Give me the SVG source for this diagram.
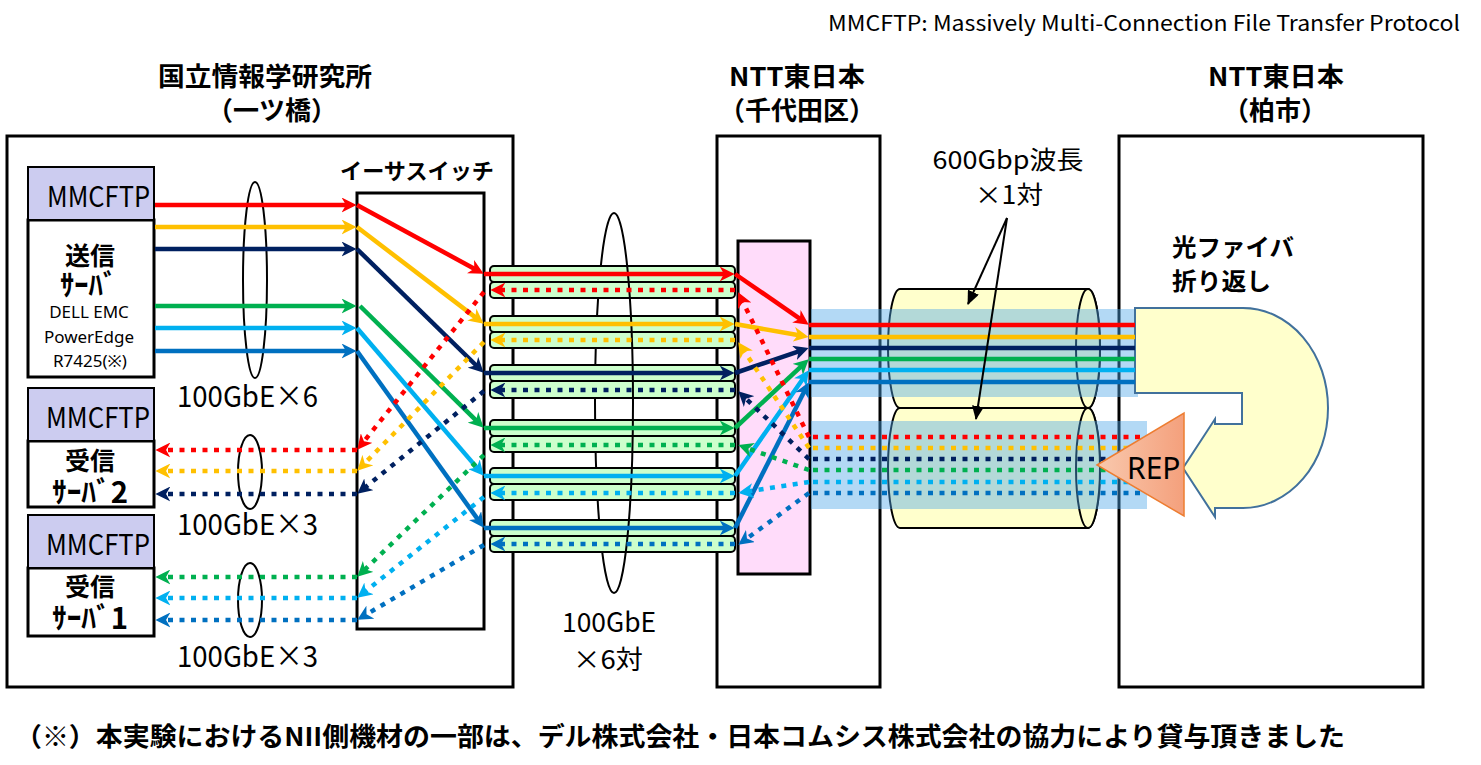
<svg xmlns="http://www.w3.org/2000/svg" width="1481" height="765" viewBox="0 0 1481 765">
<style>
.bx{fill:#fff;stroke:#000;stroke-width:3}
.hd{fill:#ccccf0;stroke:#000;stroke-width:2}
.s{fill:none;stroke-width:4.5}
.d{fill:none;stroke-width:4.5;stroke-dasharray:5 6.5}
.R{stroke:#ff0000}.Y{stroke:#ffc000}.N{stroke:#002060}.G{stroke:#00b050}.L{stroke:#00b0f0}.B{stroke:#0070c0}
.el{fill:none;stroke:#000;stroke-width:2}
.tube{fill:#ccffcc;stroke:#000;stroke-width:2}
.cyl{fill:#ffffcc;stroke:#000;stroke-width:2}
.band{fill:rgb(79,167,232);fill-opacity:0.43}
.t{font-family:"Noto Sans CJK JP","Noto Sans",sans-serif;fill:#000}
.b{font-weight:bold}
.m{text-anchor:middle}
.e{font-family:"Noto Sans","Liberation Sans",sans-serif;fill:#000}
</style>
<defs>
<marker id="aR" viewBox="0 0 14 14" markerWidth="15" markerHeight="15" refX="5" refY="7" orient="auto" markerUnits="userSpaceOnUse"><path d="M0,0 L14,7 L0,14 L4,7 Z" fill="#ff0000"/></marker>
<marker id="aY" viewBox="0 0 14 14" markerWidth="15" markerHeight="15" refX="5" refY="7" orient="auto" markerUnits="userSpaceOnUse"><path d="M0,0 L14,7 L0,14 L4,7 Z" fill="#ffc000"/></marker>
<marker id="aN" viewBox="0 0 14 14" markerWidth="15" markerHeight="15" refX="5" refY="7" orient="auto" markerUnits="userSpaceOnUse"><path d="M0,0 L14,7 L0,14 L4,7 Z" fill="#002060"/></marker>
<marker id="aG" viewBox="0 0 14 14" markerWidth="15" markerHeight="15" refX="5" refY="7" orient="auto" markerUnits="userSpaceOnUse"><path d="M0,0 L14,7 L0,14 L4,7 Z" fill="#00b050"/></marker>
<marker id="aL" viewBox="0 0 14 14" markerWidth="15" markerHeight="15" refX="5" refY="7" orient="auto" markerUnits="userSpaceOnUse"><path d="M0,0 L14,7 L0,14 L4,7 Z" fill="#00b0f0"/></marker>
<marker id="aB" viewBox="0 0 14 14" markerWidth="15" markerHeight="15" refX="5" refY="7" orient="auto" markerUnits="userSpaceOnUse"><path d="M0,0 L14,7 L0,14 L4,7 Z" fill="#0070c0"/></marker>
<marker id="aK" viewBox="0 0 14 12" markerWidth="14" markerHeight="12" refX="13" refY="6" orient="auto" markerUnits="userSpaceOnUse"><path d="M0,0 L14,6 L0,12 Z" fill="#000"/></marker>
<linearGradient id="repg" x1="0" y1="0" x2="1" y2="0"><stop offset="0" stop-color="#f9c9ae"/><stop offset="1" stop-color="#f4a07c"/></linearGradient>
</defs>
<rect width="1481" height="765" fill="#fff"/>

<text class="t" x="828" y="31" font-size="21" textLength="632" lengthAdjust="spacingAndGlyphs">MMCFTP: Massively Multi-Connection File Transfer Protocol</text>

<g id="nii">
<rect class="bx" x="7" y="136" width="506" height="551"/>
<text class="t b m" x="265" y="86" font-size="26" textLength="214" lengthAdjust="spacingAndGlyphs">国立情報学研究所</text>
<text class="t b m" x="272" y="120" font-size="26">（一ツ橋）</text>
</g>
<g id="ntt-chiyoda">
<rect class="bx" x="717" y="136" width="163" height="551"/>
<text class="t b m" x="797" y="86" font-size="26" textLength="136" lengthAdjust="spacingAndGlyphs">NTT東日本</text>
<text class="t b m" x="797" y="120" font-size="26">（千代田区）</text>
</g>
<g id="ntt-kashiwa">
<rect class="bx" x="1119" y="136" width="304" height="551"/>
<text class="t b m" x="1276" y="86" font-size="26" textLength="136" lengthAdjust="spacingAndGlyphs">NTT東日本</text>
<text class="t b m" x="1275" y="120" font-size="26">（柏市）</text>
</g>

<g id="sender">
<rect class="bx" x="28" y="220" width="126" height="157"/>
<rect class="hd" x="28" y="167" width="126" height="53"/>
<text class="t" x="47" y="207" font-size="29" fill="#262626" textLength="103" lengthAdjust="spacingAndGlyphs">MMCFTP</text>
<text class="t b m" x="90" y="265" font-size="25">送信</text>
<text class="t b" x="60" y="296" font-size="29" textLength="57" lengthAdjust="spacingAndGlyphs">ｻｰﾊﾞ</text>
<text class="e m" x="89" y="318" font-size="17">DELL EMC</text>
<text class="e m" x="89" y="343" font-size="17">PowerEdge</text>
<text class="e m" x="90" y="367" font-size="17">R7425(※)</text>
</g>
<g id="receiver2">
<rect class="bx" x="28" y="441" width="126" height="66"/>
<rect class="hd" x="28" y="388" width="126" height="53"/>
<text class="t" x="46" y="428" font-size="29" fill="#262626" textLength="104" lengthAdjust="spacingAndGlyphs">MMCFTP</text>
<text class="t b m" x="90" y="470" font-size="25">受信</text>
<text class="t b" x="52" y="503" font-size="29" textLength="76" lengthAdjust="spacingAndGlyphs">ｻｰﾊﾞ2</text>
</g>
<g id="receiver1">
<rect class="bx" x="28" y="568" width="126" height="68"/>
<rect class="hd" x="28" y="515" width="126" height="53"/>
<text class="t" x="46" y="555" font-size="29" fill="#262626" textLength="104" lengthAdjust="spacingAndGlyphs">MMCFTP</text>
<text class="t b m" x="90" y="596" font-size="25">受信</text>
<text class="t b" x="52" y="629" font-size="29" textLength="76" lengthAdjust="spacingAndGlyphs">ｻｰﾊﾞ1</text>
</g>

<g id="switch">
<rect class="bx" x="357" y="193" width="127" height="436"/>
<text class="t b" x="340" y="179" font-size="22" textLength="154" lengthAdjust="spacingAndGlyphs">イーサスイッチ</text>
</g>

<g id="bundles">
<ellipse class="el" cx="255" cy="280" rx="12" ry="98"/>
<ellipse class="el" cx="250" cy="472" rx="12" ry="37"/>
<ellipse class="el" cx="250" cy="600" rx="12" ry="37"/>
<path class="el" d="M614,213 A19,190 0 0 0 614,593"/>
<text class="t" x="177" y="407" font-size="29" textLength="141" lengthAdjust="spacingAndGlyphs">100GbE×6</text>
<text class="t" x="177" y="535" font-size="29" textLength="141" lengthAdjust="spacingAndGlyphs">100GbE×3</text>
<text class="t" x="177" y="667" font-size="29" textLength="141" lengthAdjust="spacingAndGlyphs">100GbE×3</text>
</g>

<g id="fibers">
<rect class="tube" x="490" y="266" width="245" height="16" rx="4"/>
<rect class="tube" x="490" y="282" width="245" height="16" rx="4"/>
<rect class="tube" x="490" y="316" width="245" height="16" rx="4"/>
<rect class="tube" x="490" y="332" width="245" height="16" rx="4"/>
<rect class="tube" x="490" y="365" width="245" height="16" rx="4"/>
<rect class="tube" x="490" y="381" width="245" height="17" rx="4"/>
<rect class="tube" x="490" y="420" width="245" height="16" rx="4"/>
<rect class="tube" x="490" y="436" width="245" height="16" rx="4"/>
<rect class="tube" x="490" y="468" width="245" height="16" rx="4"/>
<rect class="tube" x="490" y="484" width="245" height="16" rx="4"/>
<rect class="tube" x="490" y="520" width="245" height="16" rx="4"/>
<rect class="tube" x="490" y="536" width="245" height="16" rx="4"/>
<path class="el" d="M614,213 A19,190 0 0 1 614,593"/>
<text class="t m" x="609" y="632" font-size="27" textLength="94" lengthAdjust="spacingAndGlyphs">100GbE</text>
<text class="t m" x="608" y="669" font-size="26" textLength="70" lengthAdjust="spacingAndGlyphs">×6対</text>
</g>

<g id="oadm">
<rect x="738" y="241" width="72" height="333" fill="#ffdcfa" stroke="#000" stroke-width="3"/>
</g>

<g id="wavelengths">
<path class="cyl" d="M900,289 L1088,289 A12,59.5 0 0 1 1088,408 L900,408 A12,59.5 0 0 1 900,289 Z"/>
<ellipse class="cyl" cx="1088" cy="348.5" rx="12" ry="59.5"/>
<path class="cyl" d="M900,408 L1088,408 A12,60 0 0 1 1088,528 L900,528 A12,60 0 0 1 900,408 Z"/>
<ellipse class="cyl" cx="1088" cy="468" rx="12" ry="60"/>
<rect class="band" x="811" y="309" width="327" height="88"/>
<rect class="band" x="811" y="421" width="336" height="88"/>
<text class="t m" x="1008" y="169" font-size="25" textLength="151" lengthAdjust="spacingAndGlyphs">600Gbp波長</text>
<text class="t m" x="1009" y="204" font-size="25" textLength="68" lengthAdjust="spacingAndGlyphs">×1対</text>
</g>

<g id="loopback">
<path d="M1135,308 L1243,308 A85,100 0 0 1 1243,508 L1215,508 L1215,517 L1183,468 L1215,419 L1215,424 L1242,424 L1242,393 L1135,393 Z" fill="#ffffcc" stroke="#41719c" stroke-width="2"/>
<text class="t b" x="1172" y="256" font-size="24" textLength="122" lengthAdjust="spacingAndGlyphs">光ファイバ</text>
<text class="t b" x="1172" y="290" font-size="24" textLength="99" lengthAdjust="spacingAndGlyphs">折り返し</text>
</g>

<g id="connectors">
<line class="s R" x1="155" y1="205" x2="347" y2="205" marker-end="url(#aR)"/>
<line class="s Y" x1="155" y1="227" x2="347" y2="227" marker-end="url(#aY)"/>
<line class="s N" x1="155" y1="249" x2="347" y2="249" marker-end="url(#aN)"/>
<line class="s G" x1="155" y1="306" x2="347" y2="306" marker-end="url(#aG)"/>
<line class="s L" x1="155" y1="328" x2="347" y2="328" marker-end="url(#aL)"/>
<line class="s B" x1="155" y1="351" x2="347" y2="351" marker-end="url(#aB)"/>
<line class="s R" x1="357" y1="205" x2="475.2" y2="269.2" marker-end="url(#aR)"/>
<line class="s Y" x1="357" y1="227" x2="476.1" y2="317.9" marker-end="url(#aY)"/>
<line class="s N" x1="357" y1="249" x2="476.8" y2="366" marker-end="url(#aN)"/>
<line class="s G" x1="360" y1="306" x2="476.8" y2="421.1" marker-end="url(#aG)"/>
<line class="s L" x1="357" y1="328" x2="477.5" y2="468.4" marker-end="url(#aL)"/>
<line class="s B" x1="357" y1="351" x2="478.2" y2="519.9" marker-end="url(#aB)"/>
<line class="s R" x1="484" y1="274" x2="725" y2="274" marker-end="url(#aR)"/>
<line class="s Y" x1="484" y1="324" x2="725" y2="324" marker-end="url(#aY)"/>
<line class="s N" x1="484" y1="373" x2="725" y2="373" marker-end="url(#aN)"/>
<line class="s G" x1="484" y1="428" x2="725" y2="428" marker-end="url(#aG)"/>
<line class="s L" x1="484" y1="476" x2="725" y2="476" marker-end="url(#aL)"/>
<line class="s B" x1="484" y1="528" x2="725" y2="528" marker-end="url(#aB)"/>
<line class="s R" x1="735" y1="274" x2="800.8" y2="319.3" marker-end="url(#aR)"/>
<line class="s Y" x1="735" y1="324" x2="799.1" y2="335.3" marker-end="url(#aY)"/>
<line class="s N" x1="735" y1="373" x2="799.5" y2="351.2" marker-end="url(#aN)"/>
<line class="s G" x1="735" y1="428" x2="801.7" y2="365.8" marker-end="url(#aG)"/>
<polyline class="s L" points="735,476 742,466 803.3,378.2" marker-end="url(#aL)"/>
<line class="s B" x1="735" y1="528" x2="804.5" y2="390.9" marker-end="url(#aB)"/>
<line class="s R" x1="809" y1="325" x2="1135" y2="325"/>
<line class="s Y" x1="809" y1="337" x2="1135" y2="337"/>
<line class="s N" x1="809" y1="348" x2="1135" y2="348"/>
<line class="s G" x1="809" y1="359" x2="1135" y2="359"/>
<line class="s L" x1="809" y1="370" x2="1135" y2="370"/>
<line class="s B" x1="809" y1="382" x2="1135" y2="382"/>
<line class="d R" x1="1140" y1="437" x2="812" y2="437"/>
<line class="d Y" x1="1140" y1="448" x2="812" y2="448"/>
<line class="d N" x1="1140" y1="459" x2="812" y2="459"/>
<line class="d G" x1="1140" y1="470" x2="812" y2="470"/>
<line class="d L" x1="1140" y1="482" x2="812" y2="482"/>
<line class="d B" x1="1140" y1="493" x2="812" y2="493"/>
<line class="d R" x1="809" y1="437" x2="742.4" y2="301" marker-end="url(#aR)"/>
<line class="d Y" x1="809" y1="448" x2="743.6" y2="350.3" marker-end="url(#aY)"/>
<line class="d N" x1="809" y1="459" x2="745.2" y2="397.9" marker-end="url(#aN)"/>
<line class="d G" x1="809" y1="470" x2="747.4" y2="448.3" marker-end="url(#aG)"/>
<line class="d L" x1="809" y1="482" x2="747.9" y2="491.5" marker-end="url(#aL)"/>
<line class="d B" x1="809" y1="493" x2="746.1" y2="539.1" marker-end="url(#aB)"/>
<line class="d R" x1="735" y1="290" x2="500" y2="290" marker-end="url(#aR)"/>
<line class="d Y" x1="735" y1="340" x2="500" y2="340" marker-end="url(#aY)"/>
<line class="d N" x1="735" y1="390" x2="500" y2="390" marker-end="url(#aN)"/>
<line class="d G" x1="735" y1="445" x2="500" y2="445" marker-end="url(#aG)"/>
<line class="d L" x1="735" y1="493" x2="500" y2="493" marker-end="url(#aL)"/>
<line class="d B" x1="735" y1="544" x2="500" y2="544" marker-end="url(#aB)"/>
<line class="d R" x1="484" y1="292" x2="363.3" y2="442.2" marker-end="url(#aR)"/>
<line class="d Y" x1="484" y1="342" x2="364" y2="463.9" marker-end="url(#aY)"/>
<line class="d N" x1="484" y1="391" x2="364.8" y2="487.7" marker-end="url(#aN)"/>
<line class="d G" x1="484" y1="455" x2="364.2" y2="570.1" marker-end="url(#aG)"/>
<line class="d L" x1="484" y1="497" x2="364.8" y2="591.8" marker-end="url(#aL)"/>
<line class="d B" x1="484" y1="545" x2="365.6" y2="614.9" marker-end="url(#aB)"/>
<line class="d R" x1="357" y1="450" x2="165" y2="450" marker-end="url(#aR)"/>
<line class="d Y" x1="357" y1="471" x2="165" y2="471" marker-end="url(#aY)"/>
<line class="d N" x1="357" y1="494" x2="165" y2="494" marker-end="url(#aN)"/>
<line class="d G" x1="357" y1="577" x2="165" y2="577" marker-end="url(#aG)"/>
<line class="d L" x1="357" y1="598" x2="165" y2="598" marker-end="url(#aL)"/>
<line class="d B" x1="357" y1="620" x2="165" y2="620" marker-end="url(#aB)"/>
<line x1="1007" y1="218" x2="968" y2="304" stroke="#000" stroke-width="2" marker-end="url(#aK)"/>
<line x1="1007" y1="218" x2="976" y2="419" stroke="#000" stroke-width="2" marker-end="url(#aK)"/>
</g>

<g id="rep">
<polygon points="1097,465 1184,413 1184,516" fill="url(#repg)" stroke="#ed7d31" stroke-width="1.5"/>
<text class="e" x="1127" y="479" font-size="30">REP</text>
</g>

<text class="t b" x="15" y="746" font-size="26" textLength="1330" lengthAdjust="spacingAndGlyphs">（※）本実験におけるNII側機材の一部は、デル株式会社・日本コムシス株式会社の協力により貸与頂きました</text>
</svg>
